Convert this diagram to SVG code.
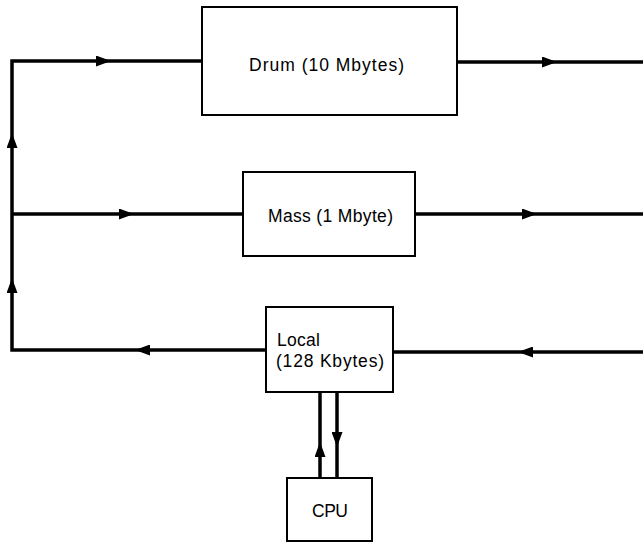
<svg xmlns="http://www.w3.org/2000/svg" width="643" height="542" viewBox="0 0 643 542">
<style>
.box{fill:#fff;stroke:#000;stroke-width:2}
.ln{fill:none;stroke:#000;stroke-width:3.5}
.lb{font-family:"Liberation Sans",Arial,sans-serif;font-size:17.5px;fill:#000}
</style>
<defs>
<marker id="arr" markerUnits="userSpaceOnUse" viewBox="0 0 15 11" refX="15" refY="5.5" markerWidth="15" markerHeight="11" orient="auto">
<path d="M0,0 L15,5.5 L0,11 z" fill="#000"/>
</marker>
</defs>
<rect width="643" height="542" fill="#fff"/>
<g id="connectors">
<path class="ln" d="M266,350 H135" marker-end="url(#arr)"/>
<path class="ln" d="M135,350 H12 V278" marker-end="url(#arr)"/>
<path class="ln" d="M12,278 V133" marker-end="url(#arr)"/>
<path class="ln" d="M12,133 V61 H111" marker-end="url(#arr)"/>
<path class="ln" d="M111,61 H202"/>
<path class="ln" d="M12,214 H134" marker-end="url(#arr)"/>
<path class="ln" d="M134,214 H243"/>
<path class="ln" d="M457,62 H557" marker-end="url(#arr)"/>
<path class="ln" d="M557,62 H643"/>
<path class="ln" d="M415,214 H537" marker-end="url(#arr)"/>
<path class="ln" d="M537,214 H643"/>
<path class="ln" d="M643,352 H518" marker-end="url(#arr)"/>
<path class="ln" d="M518,352 H393"/>
<path class="ln" d="M320,478 V442" marker-end="url(#arr)"/>
<path class="ln" d="M320,442 V392"/>
<path class="ln" d="M337,392 V447" marker-end="url(#arr)"/>
<path class="ln" d="M337,447 V478"/>
</g>
<g id="drum">
<rect class="box" x="202" y="7" width="255" height="108"/>
<text class="lb" x="326.5" y="71" text-anchor="middle" textLength="155" lengthAdjust="spacing">Drum (10 Mbytes)</text>
</g>
<g id="mass">
<rect class="box" x="243" y="172" width="172" height="84"/>
<text class="lb" x="330.5" y="222" text-anchor="middle" textLength="125" lengthAdjust="spacing">Mass (1 Mbyte)</text>
</g>
<g id="local">
<rect class="box" x="266" y="307" width="127" height="85"/>
<text class="lb" x="277" y="346" textLength="43" lengthAdjust="spacing">Local</text>
<text class="lb" x="276" y="367" textLength="108" lengthAdjust="spacing">(128 Kbytes)</text>
</g>
<g id="cpu">
<rect class="box" x="287" y="478" width="85" height="63"/>
<text class="lb" x="330" y="517" text-anchor="middle" textLength="36" lengthAdjust="spacing">CPU</text>
</g>
</svg>
